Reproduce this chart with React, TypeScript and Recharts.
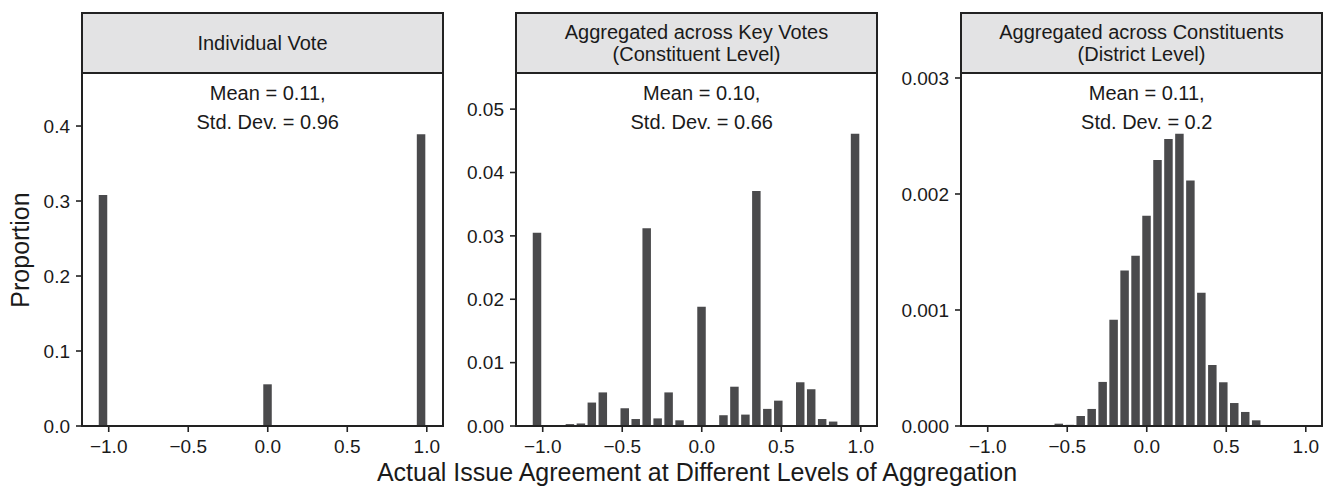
import React from 'react';
import { BarChart, Bar, XAxis, YAxis, ReferenceDot } from 'recharts';

// histogram bin centres (30 bins over [-1, 1])
const binCenters = [
  -1.0345, -0.9655, -0.8966, -0.8276, -0.7586, -0.6897, -0.6207, -0.5517, -0.4828, -0.4138,
  -0.3448, -0.2759, -0.2069, -0.1379, -0.069, 0, 0.069, 0.1379, 0.2069, 0.2759,
  0.3448, 0.4138, 0.4828, 0.5517, 0.6207, 0.6897, 0.7586, 0.8276, 0.8966, 0.9655,
];

const individualVote = [
  0.308, 0, 0, 0, 0, 0, 0, 0, 0, 0,
  0, 0, 0, 0, 0, 0.0556, 0, 0, 0, 0,
  0, 0, 0, 0, 0, 0, 0, 0, 0, 0.389,
];

const keyVotes = [
  0.0305, 0, 0, 0.0003, 0.0004, 0.0037, 0.0053, 0, 0.0028, 0.0011,
  0.0312, 0.0012, 0.0053, 0.0009, 0, 0.0188, 0, 0.0017, 0.0062, 0.0018,
  0.0371, 0.0027, 0.004, 0, 0.0069, 0.0058, 0.0011, 0.0007, 0, 0.0461,
];

const constituents = [
  0, 0, 0, 0, 0, 0, 0, 0.00002, 0.00001, 0.000086,
  0.000147, 0.00038, 0.000915, 0.00134, 0.001467, 0.001812, 0.002292, 0.002473, 0.002519, 0.002117,
  0.001148, 0.000526, 0.000377, 0.000198, 0.000121, 0.000049, 0, 0, 0, 0,
];

const xTicks = [-1, -0.5, 0, 0.5, 1];
const xDomain: [number, number] = [-1.168, 1.102];

const FONT = '"Liberation Sans", Arial, Helvetica, sans-serif';
const INK = '#1a1a1a';
const BAR = '#4a4a4c';
const PLOT_W = 361;
const PLOT_TOP = 73;
const PLOT_BOTTOM = 426;
const X_AXIS_H = 34;

const panels = [
  {
    title: ['Individual Vote'],
    values: individualVote,
    yMax: 0.4707,
    yTicks: [0, 0.1, 0.2, 0.3, 0.4],
    digits: 1,
    mean: 'Mean = 0.11,',
    sd: 'Std. Dev. = 0.96',
    plotLeft: 82,
    axisW: 82,
  },
  {
    title: ['Aggregated across Key Votes', '(Constituent Level)'],
    values: keyVotes,
    yMax: 0.0557,
    yTicks: [0, 0.01, 0.02, 0.03, 0.04, 0.05],
    digits: 2,
    mean: 'Mean = 0.10,',
    sd: 'Std. Dev. = 0.66',
    plotLeft: 516,
    axisW: 66,
  },
  {
    title: ['Aggregated across Constituents', '(District Level)'],
    values: constituents,
    yMax: 0.003043,
    yTicks: [0, 0.001, 0.002, 0.003],
    digits: 3,
    mean: 'Mean = 0.11,',
    sd: 'Std. Dev. = 0.2',
    plotLeft: 961,
    axisW: 76,
  },
];

const fmtX = (v: number) => (v < 0 ? '\u2212' : '') + Math.abs(v).toFixed(1);

function Panel({ p }: { p: (typeof panels)[number] }) {
  const rows = binCenters.map((x, i) => ({ x, y: p.values[i] }));
  const tickStyle = { fontSize: 19, fill: INK, fontFamily: FONT };
  const axisStroke = { stroke: '#222', strokeWidth: 1.6 };
  return (
    <>
      <div style={{ position: 'absolute', left: p.plotLeft - p.axisW, top: 0 }}>
        <BarChart
          width={p.axisW + PLOT_W}
          height={PLOT_BOTTOM + X_AXIS_H}
          data={rows}
          margin={{ top: PLOT_TOP, right: 0, bottom: 0, left: 0 }}
        >
          <XAxis
            type="number"
            dataKey="x"
            domain={xDomain}
            ticks={xTicks}
            tickFormatter={fmtX}
            height={X_AXIS_H}
            tick={tickStyle}
            tickSize={6}
            tickMargin={8}
            axisLine={axisStroke}
            tickLine={axisStroke}
            interval={0}
          />
          <YAxis
            type="number"
            domain={[0, p.yMax]}
            ticks={p.yTicks}
            tickFormatter={(v: number) => v.toFixed(p.digits)}
            width={p.axisW}
            tick={tickStyle}
            tickSize={6}
            tickMargin={6}
            axisLine={axisStroke}
            tickLine={axisStroke}
            interval={0}
            allowDataOverflow
          />
          <Bar dataKey="y" fill={BAR} barSize={8.5} isAnimationActive={false} />
          <ReferenceDot
            x={0}
            y={p.yMax}
            r={0}
            ifOverflow="visible"
            shape={(props: any) => (
              <g>
                <text
                  x={props.cx}
                  y={props.cy + 20}
                  textAnchor="middle"
                  dominantBaseline="central"
                  fontSize={20}
                  fontFamily={FONT}
                  fill={INK}
                >
                  {p.mean}
                </text>
                <text
                  x={props.cx}
                  y={props.cy + 49}
                  textAnchor="middle"
                  dominantBaseline="central"
                  fontSize={20}
                  fontFamily={FONT}
                  fill={INK}
                >
                  {p.sd}
                </text>
              </g>
            )}
          />
        </BarChart>
      </div>
      {/* facet strip */}
      <div
        style={{
          position: 'absolute',
          left: p.plotLeft - 1,
          top: 12,
          width: PLOT_W + 2,
          height: PLOT_TOP + 1 - 12,
          boxSizing: 'border-box',
          border: '2px solid #222',
          background: '#e3e3e4',
          display: 'flex',
          flexDirection: 'column',
          justifyContent: 'center',
          alignItems: 'center',
          fontSize: 20,
          lineHeight: '22px',
          color: INK,
          fontFamily: FONT,
        }}
      >
        {p.title.map((t) => (
          <div key={t}>{t}</div>
        ))}
      </div>
      {/* panel border */}
      <div
        style={{
          position: 'absolute',
          left: p.plotLeft - 1,
          top: PLOT_TOP - 1,
          width: PLOT_W + 2,
          height: PLOT_BOTTOM + 1 - (PLOT_TOP - 1),
          boxSizing: 'border-box',
          border: '2px solid #222',
          pointerEvents: 'none',
        }}
      />
    </>
  );
}

export default function App() {
  return (
    <div
      style={{
        position: 'absolute',
        left: 0,
        top: 0,
        width: 1328,
        height: 489,
        background: '#fff',
        fontFamily: FONT,
        overflow: 'hidden',
      }}
    >
      {panels.map((p) => (
        <Panel key={p.plotLeft} p={p} />
      ))}
      <div
        style={{
          position: 'absolute',
          left: 20,
          top: 250,
          transform: 'translate(-50%, -50%) rotate(-90deg)',
          fontSize: 25,
          lineHeight: '25px',
          color: INK,
          whiteSpace: 'nowrap',
        }}
      >
        Proportion
      </div>
      <div
        style={{
          position: 'absolute',
          left: 697,
          top: 460,
          transform: 'translateX(-50%)',
          fontSize: 25,
          lineHeight: '25px',
          color: INK,
          whiteSpace: 'nowrap',
        }}
      >
        Actual Issue Agreement at Different Levels of Aggregation
      </div>
    </div>
  );
}
